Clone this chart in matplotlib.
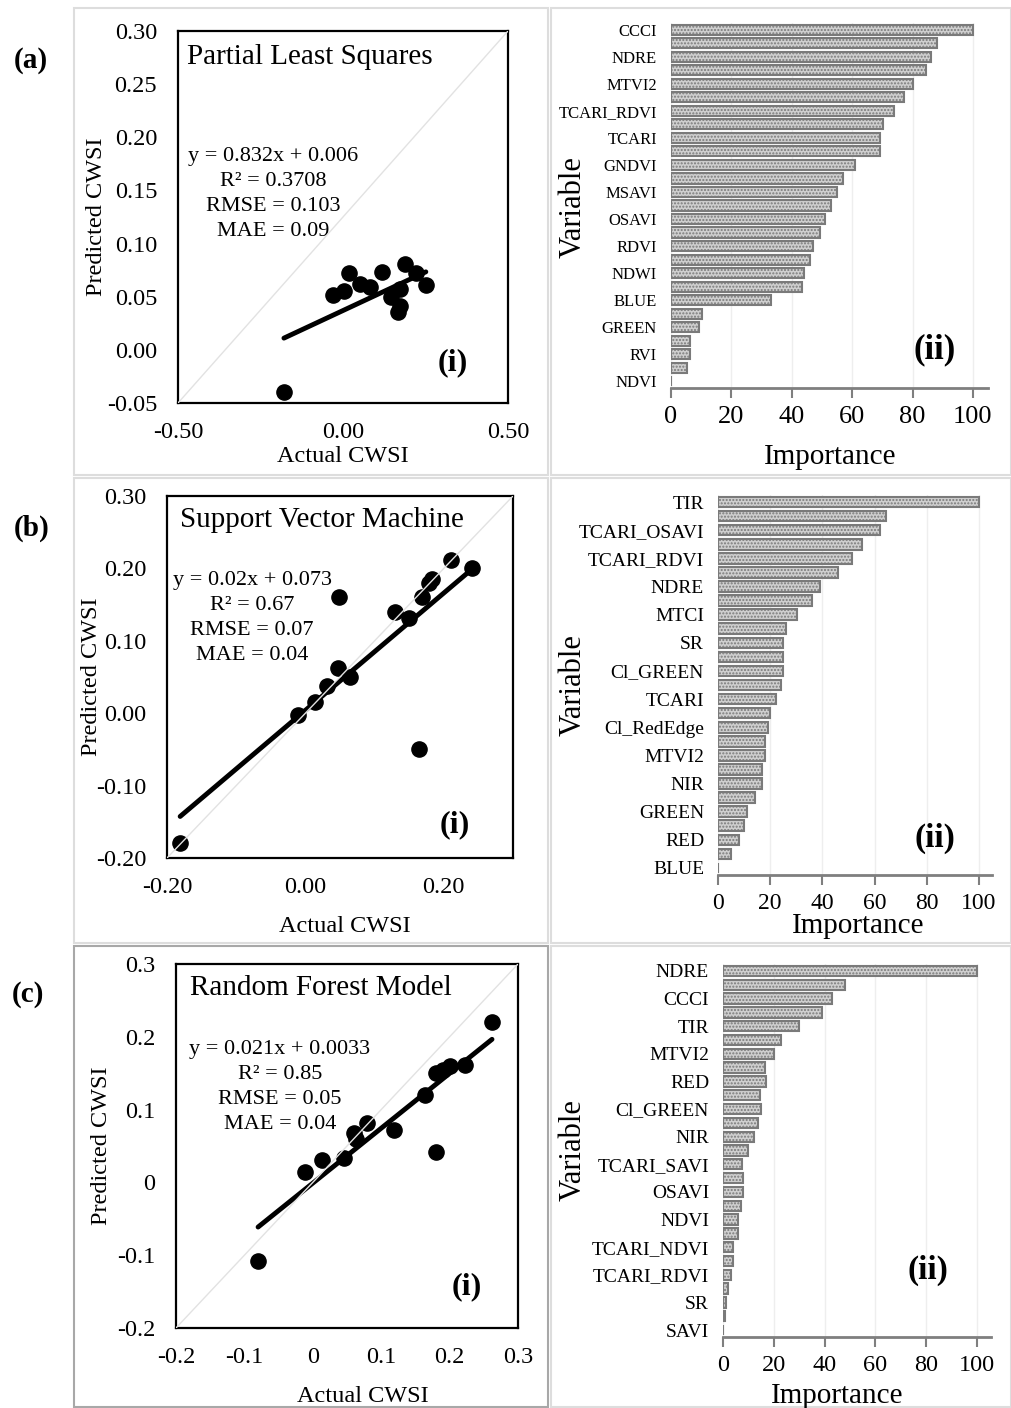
import numpy as np
import matplotlib
matplotlib.use('Agg')
import matplotlib.pyplot as plt
from matplotlib.patches import Rectangle

plt.rcParams['font.family'] = ['Liberation Serif', 'DejaVu Serif']
plt.rcParams['axes.unicode_minus'] = False
plt.rcParams['hatch.linewidth'] = 1.0

# ---- scatter data (actual vs predicted CWSI) ----
pls_actual = [-0.179, -0.030, 0.003, 0.018, 0.051, 0.081, 0.119, 0.146, 0.172, 0.187, 0.167, 0.174, 0.222, 0.251]
pls_pred = [-0.040, 0.052, 0.055, 0.072, 0.062, 0.059, 0.073, 0.050, 0.057, 0.081, 0.036, 0.041, 0.072, 0.061]
pls_trend = (0.145, 0.037)

svm_actual = [-0.181, -0.011, 0.014, 0.031, 0.047, 0.065, 0.048, 0.130, 0.149, 0.169, 0.183, 0.178, 0.210, 0.241, 0.164]
svm_pred = [-0.179, -0.003, 0.016, 0.037, 0.062, 0.050, 0.161, 0.140, 0.132, 0.161, 0.185, 0.180, 0.212, 0.200, -0.050]
svm_trend = (0.81, 0.004)

rf_actual = [-0.080, -0.011, 0.014, 0.045, 0.060, 0.063, 0.079, 0.119, 0.164, 0.180, 0.191, 0.200, 0.223, 0.180, 0.262]
rf_pred = [-0.108, 0.014, 0.031, 0.034, 0.068, 0.060, 0.081, 0.072, 0.120, 0.150, 0.155, 0.160, 0.161, 0.042, 0.221]
rf_trend = (0.754, -0.001)

# ---- variable importance data ----
pls_vars = ['CCCI', '', 'NDRE', '', 'MTVI2', '', 'TCARI_RDVI', '', 'TCARI', '', 'GNDVI', '',
            'MSAVI', '', 'OSAVI', '', 'RDVI', '', 'NDWI', '', 'BLUE', '', 'GREEN', '', 'RVI', '', 'NDVI']
pls_imp = [100, 88.1, 86.2, 84.4, 80.1, 77.2, 74.0, 70.1, 69.1, 69.1, 61.1, 57.1, 55.1, 53.1,
           51.0, 49.2, 47.2, 46.1, 44.1, 43.3, 33.0, 10.2, 9.2, 6.3, 6.3, 5.2, 0]

svm_vars = ['TIR', '', 'TCARI_OSAVI', '', 'TCARI_RDVI', '', 'NDRE', '', 'MTCI', '', 'SR', '',
            'Cl_GREEN', '', 'TCARI', '', 'Cl_RedEdge', '', 'MTVI2', '', 'NIR', '', 'GREEN', '', 'RED', '', 'BLUE']
svm_imp = [100, 64.2, 62.1, 55.1, 51.3, 45.8, 38.9, 36.0, 30.2, 26.0, 25.1, 25.1, 25.1, 24.1,
           22.1, 19.8, 19.0, 18.0, 18.0, 16.8, 16.8, 14.0, 11.1, 9.8, 8.0, 5.1, 0]

rf_vars = ['NDRE', '', 'CCCI', '', 'TIR', '', 'MTVI2', '', 'RED', '', 'Cl_GREEN', '', 'NIR', '',
           'TCARI_SAVI', '', 'OSAVI', '', 'NDVI', '', 'TCARI_NDVI', '', 'TCARI_RDVI', '', 'SR', '', 'SAVI']
rf_imp = [100, 48.0, 43.0, 39.1, 30.1, 22.8, 19.9, 16.5, 17.1, 14.7, 15.0, 13.6, 12.1, 10.0,
          7.6, 7.9, 7.7, 6.9, 5.8, 6.0, 3.9, 3.9, 3.0, 2.1, 1.0, 0.8, 0]

W, H = 1012, 1408
fig = plt.figure(figsize=(W / 100, H / 100), dpi=100)


def box(l, t, r, b):
    return [l / W, 1 - b / H, (r - l) / W, (b - t) / H]


def ftext(x, y, s, **kw):
    fig.text(x / W, 1 - y / H, s, ha='center', va='center', **kw)


# panel frames
for (l, t, r, b, c) in [(74, 8, 548, 475, '#dddddd'), (551, 8, 1011, 475, '#dddddd'),
                        (74, 478, 548, 943, '#dddddd'), (551, 478, 1011, 943, '#dddddd'),
                        (74, 946, 548, 1407, '#a8a8a8'), (551, 946, 1011, 1407, '#dddddd')]:
    fig.patches.append(Rectangle((l / W, 1 - b / H), (r - l) / W, (b - t) / H,
                                 transform=fig.transFigure, fill=False, edgecolor=c, lw=1.5))


def scatter_panel(rect, actual, pred, trend, xlim, ylim, xticks, yticks, fmt, title, stats, pos):
    ax = fig.add_axes(box(*rect))
    ax.scatter(actual, pred, s=120, color='black', zorder=3)
    x = np.array([min(actual), max(actual)])
    ax.plot(x, trend[0] * x + trend[1], color='black', lw=3.5, solid_capstyle='round', zorder=3)
    ax.plot([0, 1], [0, 1], transform=ax.transAxes, color='#e2e2e2', lw=1, zorder=4)
    ax.set_xlim(*xlim)
    ax.set_ylim(*ylim)
    ax.set_xticks(xticks)
    ax.set_yticks(yticks)
    ax.set_xticklabels([fmt(v) for v in xticks])
    ax.set_yticklabels([fmt(v) for v in yticks])
    ax.tick_params(axis='both', length=0, labelsize=17.5)
    ax.tick_params(axis='y', pad=15)
    ax.tick_params(axis='x', pad=14)
    for sp in ax.spines.values():
        sp.set_linewidth(1.6)
    ax.text(pos[0][0], pos[0][1], title, transform=ax.transAxes, fontsize=21, ha='left', va='center')
    ax.text(pos[1][0], pos[1][1], stats, transform=ax.transAxes, fontsize=16, ha='center', va='top',
            multialignment='center', linespacing=1.42)
    ax.text(pos[2][0], pos[2][1], '(i)', transform=ax.transAxes, fontsize=23, fontweight='bold',
            ha='center', va='center')
    return ax


def bar_panel(rect, names, imp, xmax, tick_fs, name_fs):
    ax = fig.add_axes(box(*rect))
    y = np.arange(len(names))
    ax.barh(y, imp, height=0.75, color='#cfcfcf', edgecolor='#7a7a7a', hatch='.....', lw=1.5, zorder=2)
    ax.set_ylim(len(names) - 0.5, -0.5)
    ax.set_xlim(0, xmax)
    ax.set_yticks(y)
    ax.set_yticklabels(names, fontsize=name_fs)
    ax.set_xticks([0, 20, 40, 60, 80, 100])
    ax.tick_params(axis='y', length=0, pad=10)
    ax.tick_params(axis='x', length=7, width=1.5, color='#7f7f7f', labelsize=tick_fs, pad=6)
    ax.xaxis.grid(True, color='#eeeeee', lw=1)
    ax.set_axisbelow(True)
    for s in ['top', 'right', 'left']:
        ax.spines[s].set_visible(False)
    ax.spines['bottom'].set_color('#7f7f7f')
    ax.spines['bottom'].set_linewidth(2)
    return ax


two_dec = lambda v: '{:.2f}'.format(v)
short = lambda v: '{:g}'.format(round(v, 2))

scatter_panel((178, 31, 508, 403), pls_actual, pls_pred, pls_trend, (-0.5, 0.5), (-0.05, 0.30),
              [-0.5, 0.0, 0.5], [-0.05, 0.0, 0.05, 0.10, 0.15, 0.20, 0.25, 0.30], two_dec,
              'Partial Least Squares',
              'y = 0.832x + 0.006\nR² = 0.3708\nRMSE = 0.103\nMAE = 0.09',
              [(0.027, 0.93), (0.288, 0.687), (0.833, 0.108)])
scatter_panel((167, 496, 513, 858), svm_actual, svm_pred, svm_trend, (-0.2, 0.3), (-0.2, 0.3),
              [-0.2, 0.0, 0.2], [-0.2, -0.1, 0.0, 0.1, 0.2, 0.3], two_dec,
              'Support Vector Machine',
              'y = 0.02x + 0.073\nR² = 0.67\nRMSE = 0.07\nMAE = 0.04',
              [(0.038, 0.934), (0.246, 0.793), (0.832, 0.091)])
scatter_panel((176, 964, 518, 1328), rf_actual, rf_pred, rf_trend, (-0.2, 0.3), (-0.2, 0.3),
              [-0.2, -0.1, 0.0, 0.1, 0.2, 0.3], [-0.2, -0.1, 0.0, 0.1, 0.2, 0.3], short,
              'Random Forest Model',
              'y = 0.021x + 0.0033\nR² = 0.85\nRMSE = 0.05\nMAE = 0.04',
              [(0.041, 0.934), (0.304, 0.79), (0.851, 0.113)])

bar_panel((671, 23, 988, 388), pls_vars, pls_imp, 105, 19, 12)
bar_panel((718, 495, 992, 875), svm_vars, svm_imp, 105, 17, 14)
bar_panel((723, 964, 991, 1337), rf_vars, rf_imp, 105.5, 17.5, 14)

# axis titles
ftext(97, 217, 'Predicted CWSI', fontsize=17.5, rotation=90)
ftext(92, 677, 'Predicted CWSI', fontsize=17.5, rotation=90)
ftext(102, 1146, 'Predicted CWSI', fontsize=17.5, rotation=90)
ftext(343, 457, 'Actual CWSI', fontsize=17.5)
ftext(345, 927, 'Actual CWSI', fontsize=17.5)
ftext(363, 1397, 'Actual CWSI', fontsize=17.5)

ftext(573, 207, 'Variable', fontsize=22, rotation=90)
ftext(573, 685, 'Variable', fontsize=22, rotation=90)
ftext(573, 1150, 'Variable', fontsize=22, rotation=90)
ftext(830, 457, 'Importance', fontsize=21)
ftext(858, 926, 'Importance', fontsize=21)
ftext(837, 1396, 'Importance', fontsize=21)

ftext(935, 350, '(ii)', fontsize=25, fontweight='bold')
ftext(935, 838, '(ii)', fontsize=24, fontweight='bold')
ftext(928, 1270, '(ii)', fontsize=24, fontweight='bold')

ftext(31, 60, '(a)', fontsize=21, fontweight='bold')
ftext(32, 528, '(b)', fontsize=21, fontweight='bold')
ftext(28, 995, '(c)', fontsize=21, fontweight='bold')

fig.savefig('out.png', dpi=100)
